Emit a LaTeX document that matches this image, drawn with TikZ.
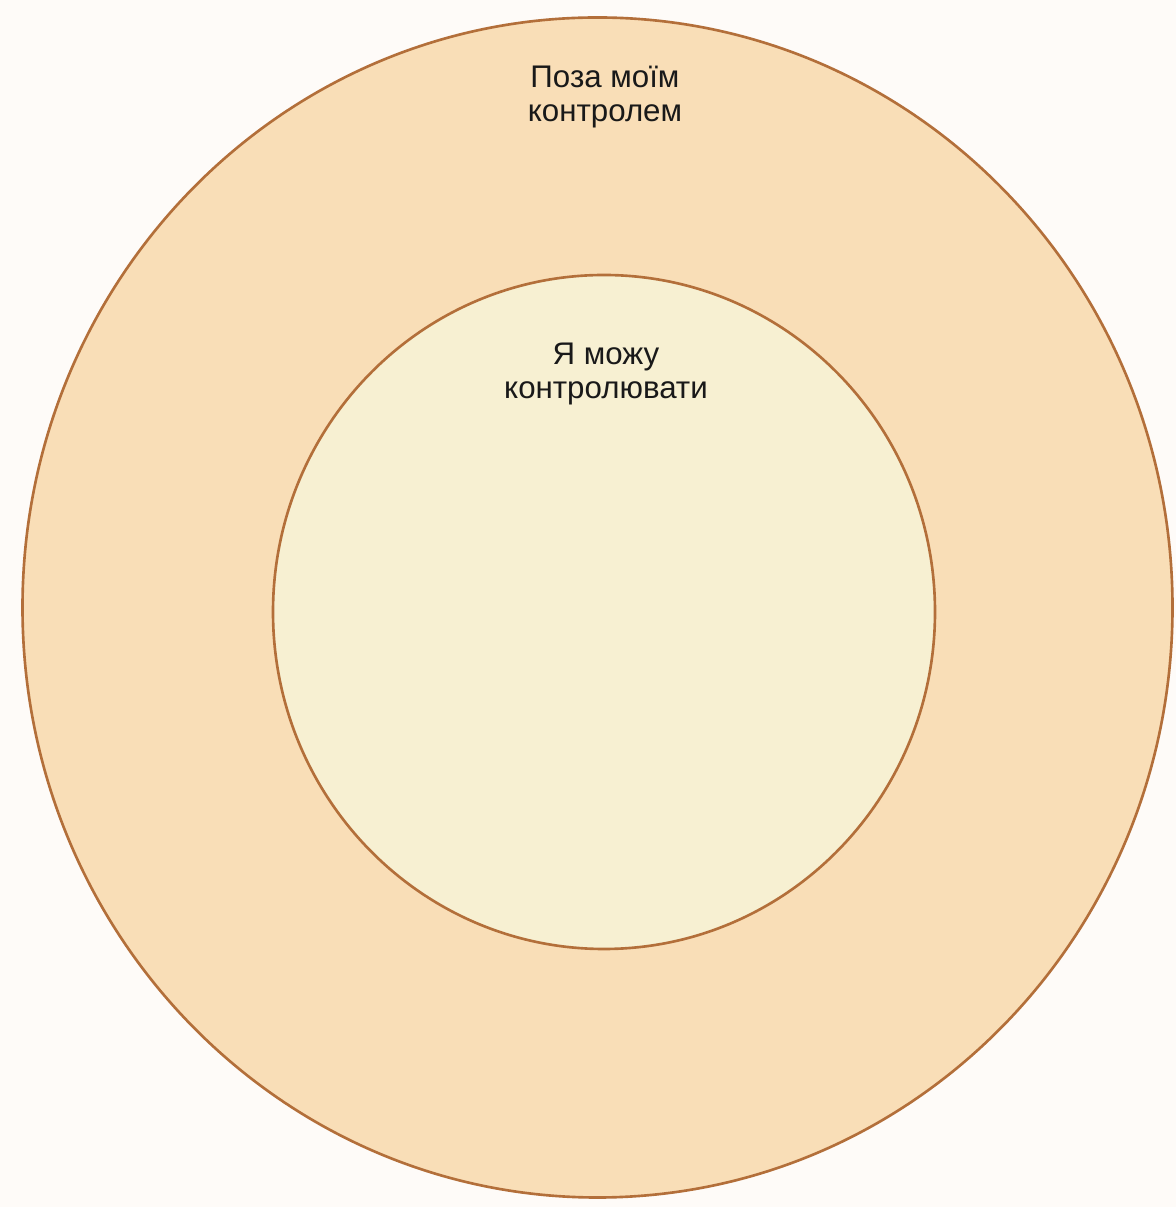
\documentclass[tikz,border=0pt]{standalone}
\usepackage{fontspec}
\setmainfont{Liberation Sans}
\definecolor{fondo}{HTML}{FEFBF8}
\definecolor{zonaext}{HTML}{F9DEB7}
\definecolor{zonaint}{HTML}{F7F0D2}
\definecolor{borde}{HTML}{B36F3A}

\begin{document}
\begin{tikzpicture}[x=0.02cm,y=0.02cm,line width=1.5pt,
  etiq/.style={align=center,font=\fontsize{17.8}{19.3}\selectfont,text=black!90}]
  % fondo
  \fill[fondo] (0,0) rectangle (1176,1207);
  \useasboundingbox (0,0) rectangle (1176,1207);
  % fuera de control
  \draw[borde,fill=zonaext] (597.5,599.5) ellipse [x radius=575,y radius=590];
  % bajo control
  \draw[borde,fill=zonaint] (604,595) ellipse [x radius=331,y radius=337];
  \node[etiq] (fuera) at (605,1110){Поза моїм\\контролем};
  \node[etiq] (dentro) at (606,833){Я можу\\контролювати};
\end{tikzpicture}
\end{document}
